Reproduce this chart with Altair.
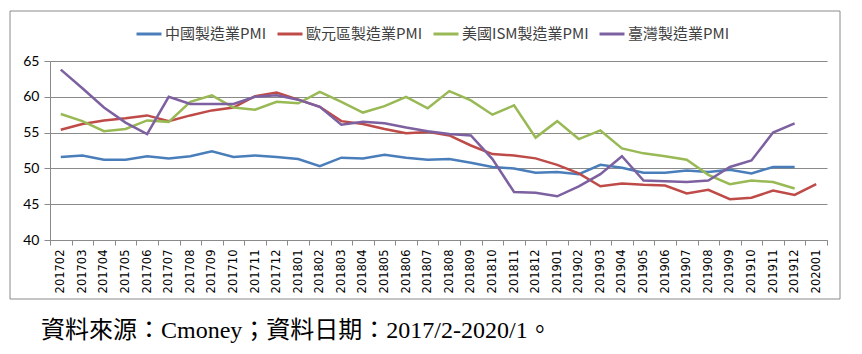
import altair as alt
import pandas as pd

months = ["201702", "201703", "201704", "201705", "201706", "201707", "201708", "201709",
          "201710", "201711", "201712", "201801", "201802", "201803", "201804", "201805",
          "201806", "201807", "201808", "201809", "201810", "201811", "201812", "201901",
          "201902", "201903", "201904", "201905", "201906", "201907", "201908", "201909",
          "201910", "201911", "201912", "202001"]

series_names = ["中國製造業PMI", "歐元區製造業PMI", "美國ISM製造業PMI", "臺灣製造業PMI"]
series_colors = ["#4A7EBB", "#BE4B48", "#98B954", "#7D60A0"]

china = [51.6, 51.8, 51.2, 51.2, 51.7, 51.4, 51.7, 52.4, 51.6, 51.8, 51.6,
         51.3, 50.3, 51.5, 51.4, 51.9, 51.5, 51.2, 51.3, 50.8, 50.2, 50.0, 49.4,
         49.5, 49.2, 50.5, 50.1, 49.4, 49.4, 49.7, 49.5, 49.8, 49.3, 50.2, 50.2, None]
euro = [55.4, 56.2, 56.7, 57.0, 57.4, 56.6, 57.4, 58.1, 58.5, 60.1, 60.6,
        59.6, 58.6, 56.6, 56.2, 55.5, 54.9, 55.1, 54.6, 53.2, 52.0, 51.8, 51.4,
        50.5, 49.3, 47.5, 47.9, 47.7, 47.6, 46.5, 47.0, 45.7, 45.9, 46.9, 46.3, 47.8]
us = [57.6, 56.6, 55.2, 55.5, 56.7, 56.5, 59.3, 60.2, 58.5, 58.2, 59.3,
      59.1, 60.7, 59.3, 57.8, 58.7, 60.0, 58.4, 60.8, 59.5, 57.5, 58.8, 54.3,
      56.6, 54.1, 55.3, 52.8, 52.1, 51.7, 51.2, 49.1, 47.8, 48.3, 48.1, 47.2, None]
taiwan = [63.8, 61.2, 58.5, 56.4, 54.8, 60.0, 59.0, 59.0, 59.0, 60.0, 60.2,
          59.6, 58.6, 56.1, 56.5, 56.3, 55.7, 55.2, 54.8, 54.6, 51.3, 46.7, 46.6,
          46.1, 47.5, 49.2, 51.7, 48.3, 48.2, 48.1, 48.3, 50.2, 51.1, 55.0, 56.3, None]

y_ticks = [40, 45, 50, 55, 60, 65]
caption = "資料來源：Cmoney；資料日期：2017/2-2020/1。"

rows = []
for name, vals in zip(series_names, [china, euro, us, taiwan]):
    for m, v in zip(months, vals):
        if v is not None:
            rows.append({"month": m, "value": v, "series": name})
df = pd.DataFrame(rows)

GRAY = "#8A8A8A"

lines = alt.Chart(df).mark_line(strokeWidth=2.5).encode(
    x=alt.X("month:O", sort=months, bandPosition=0.5,
            scale=alt.Scale(type="band", domain=months, paddingInner=0, paddingOuter=0),
            axis=alt.Axis(title=None, labelAngle=270, labelFont="DejaVu Sans", labelFontSize=11.5,
                          labelColor="#000000", tickBand="extent", tickSize=5, tickColor=GRAY,
                          domainColor=GRAY, labelPadding=4, grid=False, labelOverlap=False)),
    y=alt.Y("value:Q", scale=alt.Scale(domain=[40, 65], nice=False, zero=False),
            axis=alt.Axis(title=None, values=y_ticks, grid=True, gridColor=GRAY, domainColor=GRAY,
                          tickColor=GRAY, tickSize=6, labelPadding=5, labelFont="Lato",
                          labelFontSize=14, labelColor="#000000")),
    color=alt.Color("series:N", scale=alt.Scale(domain=series_names, range=series_colors),
                    legend=alt.Legend(title=None, orient="none", legendX=85, legendY=-41,
                                      direction="horizontal", symbolType="stroke",
                                      symbolSize=625, symbolStrokeWidth=3, labelOffset=2,
                                      columnPadding=4, labelFont="Noto Sans CJK TC",
                                      labelFontSize=15, labelColor="#404040")),
    order=alt.Order("series:N")
)

border = alt.Chart(pd.DataFrame({"k": [0]})).mark_rect(filled=False, stroke=GRAY, strokeWidth=1).encode(
    x=alt.value(-40), x2=alt.value(790), y=alt.value(-50), y2=alt.value(238)
)

cap = alt.Chart(pd.DataFrame({"t": [caption]})).mark_text(
    align="left", baseline="alphabetic", font="Liberation Serif, Noto Sans CJK TC",
    fontSize=24, color="#000000"
).encode(text="t:N", x=alt.value(-9), y=alt.value(277))

chart = alt.layer(border, lines, cap).properties(
    width=777, height=179,
    autosize=alt.AutoSizeParams(type="none"),
    padding={"left": 50, "top": 61, "right": 35, "bottom": 114},
    background="#FFFFFF"
).configure_view(stroke=None)

chart.save("out.html", embed_options={"renderer": "svg", "actions": False})
